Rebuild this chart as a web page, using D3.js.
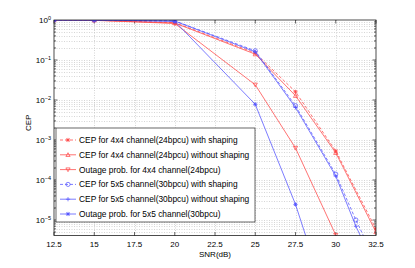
<!DOCTYPE html>
<html>
<head>
<meta charset="utf-8">
<script src="https://cdn.jsdelivr.net/npm/d3@7"></script>
<style>
  body { margin: 0; background: #fff; }
  text { font-family: "Liberation Sans", Arial, sans-serif; fill: #000; }
</style>
</head>
<body>
<div id="chart"></div>
<script>
const width = 415;
const height = 268;

// x ticks and y decades
const xTicks = [12.5, 15, 17.5, 20, 22.5, 25, 27.5, 30, 32.5];
const yDecades = [0, -1, -2, -3, -4, -5];

// 4x4 channel (24 bpcu)
const snr4 = [12.5, 15, 20, 25, 27.5, 30, 32.5];
const cepShaped4 = [1, 0.99, 0.86, 0.15, 0.016, 5.3e-4, 6e-6];
const cepPlain4 = [1, 0.99, 0.84, 0.14, 0.0128, 4.8e-4, 5e-6];
const snrOut4 = [12.5, 15, 20, 25, 27.5, 30];
const outage4 = [1, 0.98, 0.82, 0.024, 6.3e-4, 4.2e-6];

// 5x5 channel (30 bpcu)
const snr5 = [12.5, 15, 20, 25, 27.5, 30, 31.25, 32.5];
const cepShaped5 = [1, 1, 0.95, 0.17, 0.0072, 1.4e-4, 1e-5, 9e-7];
const cepPlain5 = [1, 1, 0.94, 0.16, 0.0065, 1.25e-4, 7e-6, 6e-7];
const snrOut5 = [12.5, 15, 20, 25, 27.5, 30];
const outage5 = [1, 1, 0.93, 0.0078, 2.45e-5, 2e-8];

const legendLabels = [
  "CEP for 4x4 channel(24bpcu) with shaping",
  "CEP for 4x4 channel(24bpcu) without shaping",
  "Outage prob. for 4x4 channel(24bpcu)",
  "CEP for 5x5 channel(30bpcu) with shaping",
  "CEP for 5x5 channel(30bpcu) without shaping",
  "Outage prob. for 5x5 channel(30bpcu)"
];

const red = "#ff4444";
const blue = "#5050ff";

const series = [
  { x: snr4, y: cepShaped4, color: red, dash: "3,2", marker: "star" },
  { x: snr4, y: cepPlain4, color: red, dash: null, marker: "up" },
  { x: snrOut4, y: outage4, color: red, dash: null, marker: "down" },
  { x: snr5, y: cepShaped5, color: blue, dash: "3,2", marker: "circle" },
  { x: snr5, y: cepPlain5, color: blue, dash: null, marker: "plus" },
  { x: snrOut5, y: outage5, color: blue, dash: null, marker: "star" }
];

const margin = { left: 54, top: 20, right: 39, bottom: 32.4 };
const w = width - margin.left - margin.right;
const h = height - margin.top - margin.bottom;

const svg = d3.select("#chart").append("svg")
    .attr("width", width)
    .attr("height", height);

const g = svg.append("g")
    .attr("transform", `translate(${margin.left},${margin.top})`);

const x = d3.scaleLinear().domain([12.5, 32.5]).range([0, w]);
const y = d3.scaleLog().domain([Math.pow(10, -5.39), 1]).range([h, 0]);

svg.append("defs").append("clipPath").attr("id", "clip")
  .append("rect").attr("width", w).attr("height", h);

// minor log ticks
const minorY = [];
for (let d = -6; d < 0; d++) {
  for (let k = 1; k < 10; k++) {
    const v = k * Math.pow(10, d);
    if (v >= y.domain()[0] && v <= 1) minorY.push(v);
  }
}

// grid
g.append("g").selectAll("line")
  .data(minorY)
  .enter().append("line")
  .attr("x1", 0).attr("x2", w)
  .attr("y1", d => Math.round(y(d)) + 0.5)
  .attr("y2", d => Math.round(y(d)) + 0.5)
  .attr("stroke", "#bbb")
  .attr("stroke-width", 0.6)
  .attr("stroke-dasharray", "1,1.5");

g.append("g").selectAll("line")
  .data(xTicks.slice(1, -1))
  .enter().append("line")
  .attr("x1", d => Math.round(x(d)) + 0.5)
  .attr("x2", d => Math.round(x(d)) + 0.5)
  .attr("y1", 0).attr("y2", h)
  .attr("stroke", "#bbb")
  .attr("stroke-width", 0.6)
  .attr("stroke-dasharray", "1,1.5");

// ticks on all four sides
const tickLen = 3.5;
const minorLen = 2;
xTicks.forEach(t => {
  const px = x(t);
  g.append("line").attr("x1", px).attr("x2", px).attr("y1", h).attr("y2", h - tickLen).attr("stroke", "#000").attr("stroke-width", 0.6);
  g.append("line").attr("x1", px).attr("x2", px).attr("y1", 0).attr("y2", tickLen).attr("stroke", "#000").attr("stroke-width", 0.6);
});
minorY.forEach(v => {
  const py = y(v);
  const len = Math.abs(Math.log10(v) - Math.round(Math.log10(v))) < 1e-9 ? tickLen : minorLen;
  g.append("line").attr("x1", 0).attr("x2", len).attr("y1", py).attr("y2", py).attr("stroke", "#000").attr("stroke-width", 0.6);
  g.append("line").attr("x1", w).attr("x2", w - len).attr("y1", py).attr("y2", py).attr("stroke", "#000").attr("stroke-width", 0.6);
});

// series lines
const plot = g.append("g").attr("clip-path", "url(#clip)");

function drawMarker(sel, type, color) {
  const s = 2.1;
  if (type === "circle") {
    sel.append("circle").attr("r", s).attr("fill", "none").attr("stroke", color).attr("stroke-width", 0.7);
  } else if (type === "plus") {
    sel.append("path").attr("d", `M${-s},0H${s}M0,${-s}V${s}`).attr("stroke", color).attr("stroke-width", 0.7);
  } else if (type === "star") {
    const a = s * 0.75;
    sel.append("path").attr("d", `M${-s},0H${s}M0,${-s}V${s}M${-a},${-a}L${a},${a}M${-a},${a}L${a},${-a}`)
      .attr("stroke", color).attr("stroke-width", 0.8);
  } else if (type === "up") {
    sel.append("path").attr("d", `M0,${-s}L${s},${s * 0.8}L${-s},${s * 0.8}Z`).attr("fill", "none").attr("stroke", color).attr("stroke-width", 0.7);
  } else if (type === "down") {
    sel.append("path").attr("d", `M0,${s}L${s},${-s * 0.8}L${-s},${-s * 0.8}Z`).attr("fill", "none").attr("stroke", color).attr("stroke-width", 0.7);
  }
}

const line = d3.line().x(d => x(d[0])).y(d => y(d[1]));

series.forEach(s => {
  const pts = s.x.map((v, i) => [v, s.y[i]]);
  plot.append("path")
    .attr("d", line(pts))
    .attr("fill", "none")
    .attr("stroke", s.color)
    .attr("stroke-width", 0.75)
    .attr("stroke-dasharray", s.dash);
  pts.forEach(p => {
    const m = plot.append("g").attr("transform", `translate(${x(p[0])},${y(p[1])})`);
    drawMarker(m, s.marker, s.color);
  });
});

// axes box
g.append("rect")
  .attr("width", w).attr("height", h)
  .attr("fill", "none")
  .attr("stroke", "#000")
  .attr("stroke-width", 0.7);

// x tick labels
g.append("g").selectAll("text")
  .data(xTicks)
  .enter().append("text")
  .attr("x", d => x(d))
  .attr("y", h + 11)
  .attr("text-anchor", "middle")
  .attr("font-size", 8)
  .text(d => d);

// y tick labels 10^n
yDecades.forEach(d => {
  const t = g.append("text")
    .attr("x", -3)
    .attr("y", y(Math.pow(10, d)) + 3)
    .attr("text-anchor", "end")
    .attr("font-size", 8);
  t.append("tspan").text("10");
  t.append("tspan").attr("dy", -3.5).attr("font-size", 5.5).text(d === 0 ? "0" : "\u2212" + Math.abs(d));
});

// axis labels
g.append("text")
  .attr("x", w / 2)
  .attr("y", h + 21.5)
  .attr("text-anchor", "middle")
  .attr("font-size", 8)
  .text("SNR(dB)");

g.append("text")
  .attr("transform", `translate(-23,${h / 2 - 5}) rotate(-90)`)
  .attr("text-anchor", "middle")
  .attr("font-size", 8)
  .text("CEP");

// legend
const leg = g.append("g").attr("transform", "translate(2,108)");
leg.append("rect")
  .attr("width", 199).attr("height", 94)
  .attr("fill", "#fff")
  .attr("stroke", "#000")
  .attr("stroke-width", 0.6);

series.forEach((s, i) => {
  const ry = 12 + i * 14.8;
  leg.append("line")
    .attr("x1", 4).attr("x2", 20)
    .attr("y1", ry).attr("y2", ry)
    .attr("stroke", s.color)
    .attr("stroke-width", 0.75)
    .attr("stroke-dasharray", s.dash);
  const m = leg.append("g").attr("transform", `translate(12,${ry})`);
  drawMarker(m, s.marker, s.color);
  leg.append("text")
    .attr("x", 23)
    .attr("y", ry + 3)
    .attr("font-size", 8.4)
    .text(legendLabels[i]);
});
</script>
</body>
</html>
